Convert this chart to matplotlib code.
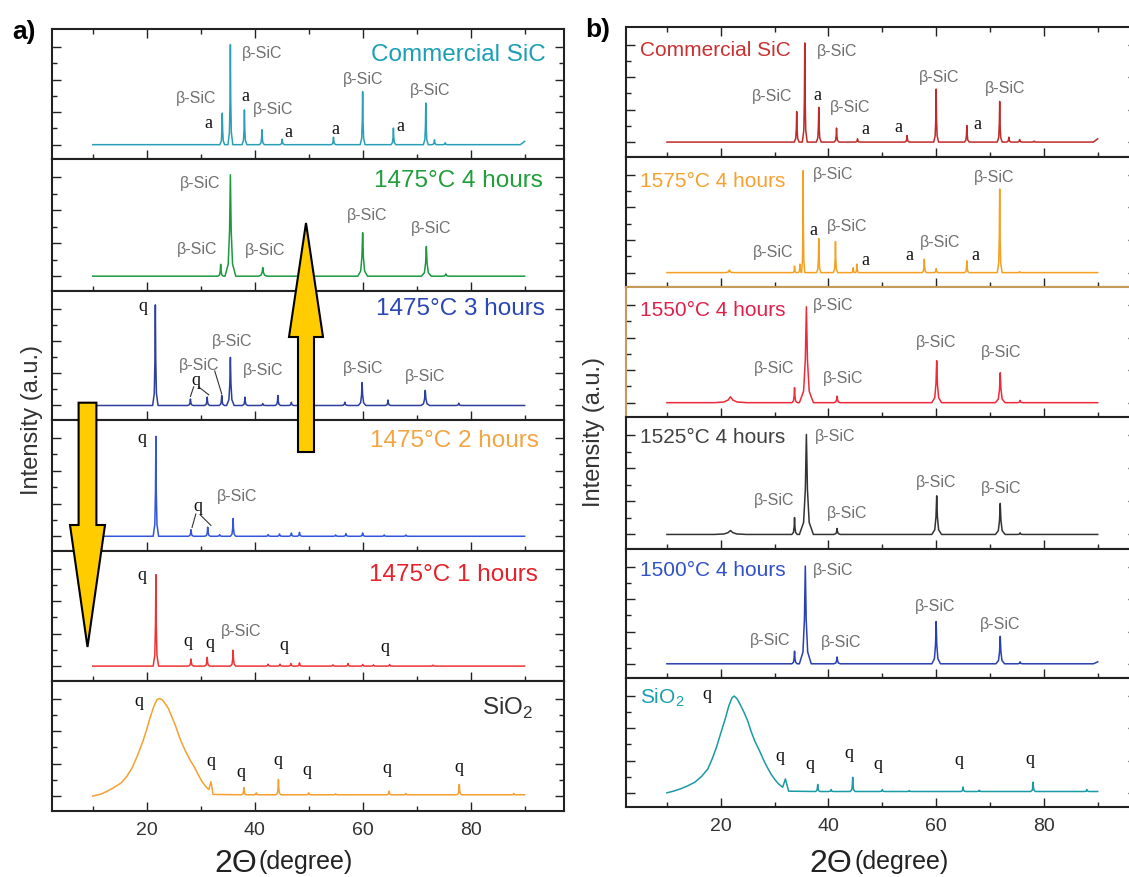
import matplotlib
matplotlib.use("Agg")
import matplotlib.pyplot as plt
from matplotlib.patches import Polygon

plt.rcParams['font.family'] = ['Liberation Sans', 'DejaVu Sans']

#   ---- dati (2theta in gradi, intensita' in unita' di tacca) ----
#   colonna a)
a_comm_pos = [34.0, 35.5, 38.1, 41.35, 45.1, 54.6, 60.0, 65.7, 71.7, 73.3, 75.3]
a_comm_hgt = [0.97, 3.08, 1.07, 0.46, 0.17, 0.23, 1.63, 0.51, 1.28, 0.15, 0.06]

a_4h_pos = [33.7, 35.5, 41.5, 60.0, 71.8, 75.4]
a_4h_hgt = [0.36, 3.08, 0.26, 1.32, 0.9, 0.07]

a_3h_pos = [21.6, 28.1, 31.2, 33.9, 35.5, 38.2, 41.5, 44.3, 46.8, 56.7, 59.9, 64.7, 71.6, 77.8]
a_3h_hgt = [3.12, 0.2, 0.26, 0.31, 1.49, 0.26, 0.06, 0.31, 0.1, 0.1, 0.71, 0.17, 0.47, 0.07]

a_2h_pos = [21.7, 28.2, 31.3, 33.5, 36.0, 42.5, 44.6, 46.8, 48.3, 55.0, 56.9, 60.0, 64.0, 68.0]
a_2h_hgt = [3.05, 0.2, 0.28, 0.05, 0.54, 0.05, 0.07, 0.1, 0.12, 0.04, 0.08, 0.1, 0.04, 0.04]

a_1h_pos = [21.7, 28.2, 31.2, 36.0, 42.5, 44.7, 46.7, 48.3, 54.5, 57.3, 60.0, 62.0, 65.0, 73.0]
a_1h_hgt = [2.82, 0.22, 0.27, 0.49, 0.06, 0.06, 0.08, 0.1, 0.04, 0.08, 0.05, 0.04, 0.05, 0.03]

a_sio2_hump_x = [10, 11.5, 12.7, 14, 15.3, 16.3, 17.3, 18.3, 19.3, 20.0, 20.6, 21.3, 21.9, 22.4, 22.9,
                 23.3, 24.0, 24.6, 25.3, 25.9, 26.5, 27.2, 28.0, 28.9, 29.6, 30.2, 30.9, 31.5, 31.9, 32.3]
a_sio2_hump_y = [0, 0.06, 0.15, 0.27, 0.41, 0.6, 0.87, 1.25, 1.69, 2.05, 2.4, 2.75, 2.97, 3.0, 2.96,
                 2.87, 2.7, 2.46, 2.18, 1.89, 1.63, 1.38, 1.12, 0.87, 0.64, 0.46, 0.3, 0.2, 0.44, 0.05]
a_sio2_pos = [38.0, 40.3, 44.4, 50.0, 55.0, 64.9, 68.0, 77.9, 88.0]
a_sio2_hgt = [0.22, 0.06, 0.47, 0.06, 0.03, 0.11, 0.04, 0.32, 0.04]

#   colonna b)
b_comm_pos = [34.1, 35.6, 38.2, 41.5, 45.4, 54.6, 60.0, 65.7, 71.8, 73.5, 75.5, 78.2]
b_comm_hgt = [0.94, 3.05, 1.07, 0.43, 0.1, 0.2, 1.63, 0.51, 1.25, 0.15, 0.08, 0.03]

b_1575_pos = [21.6, 33.7, 34.7, 35.3, 38.2, 41.3, 44.6, 45.3, 57.8, 60.0, 65.7, 71.8, 75.5]
b_1575_hgt = [0.08, 0.2, 0.26, 3.12, 1.04, 0.95, 0.15, 0.26, 0.41, 0.12, 0.36, 2.56, 0.03]

b_4h_pos = [21.8, 33.7, 35.9, 41.6, 60.1, 71.9, 75.6]
b_1550_hgt = [0.18, 0.46, 2.95, 0.2, 1.29, 0.92, 0.07]
b_1525_hgt = [0.12, 0.51, 3.03, 0.18, 1.17, 0.94, 0.05]

b_1500_pos = [33.7, 35.7, 41.6, 60.0, 71.9, 75.6]
b_1500_hgt = [0.39, 3.03, 0.21, 1.31, 0.85, 0.06]

b_sio2_hump_x = [10, 11.2, 12.5, 13.8, 15.2, 16.4, 17.6, 18.4, 19.2, 20.0, 20.9, 21.5, 22.1, 22.5, 23.0,
                 23.6, 24.3, 25.0, 25.6, 26.3, 27.2, 28.0, 28.6, 29.3, 30.0, 30.7, 31.5, 32.0, 32.6]
b_sio2_hump_y = [0, 0.05, 0.12, 0.21, 0.33, 0.5, 0.74, 1.05, 1.41, 1.85, 2.33, 2.7, 2.95, 3.0, 2.92,
                 2.74, 2.5, 2.23, 1.92, 1.61, 1.3, 1.0, 0.8, 0.59, 0.42, 0.28, 0.17, 0.43, 0.05]
b_sio2_pos = [38.0, 40.5, 44.5, 50.0, 55.0, 65.0, 68.0, 78.0, 88.0]
b_sio2_hgt = [0.22, 0.06, 0.44, 0.06, 0.03, 0.14, 0.04, 0.29, 0.06]

BS = "\u03b2-SiC"


def trace(pos, hgt, wid, base=0.0, x0=10.0, x1=90.0, end=None, head=None):
    #   spezzata che congiunge i picchi letti, con profilo a punta
    xs, ys = ([x0], [base]) if head is None else (list(head[0]), list(head[1]))
    if not isinstance(wid, (list, tuple)):
        wid = [wid] * len(pos)
    for p, h, w in sorted(zip(pos, hgt, wid)):
        for f, g in ((-1, 0), (-0.4, 0.12), (-0.15, 0.45), (0, 1), (0.15, 0.45), (0.4, 0.12), (1, 0)):
            xs.append(p + f * w)
            ys.append(base + g * h)
    if end is not None:
        xs.append(x1 - 0.8)
        ys.append(base)
    xs.append(x1)
    ys.append(base if end is None else end)
    return xs, ys


W, H = 1129, 877
fig = plt.figure(figsize=(W / 100, H / 100), dpi=100)

left_edges = [29.3, 159.3, 291, 420, 551, 680.7, 810.7]
right_edges = [26.7, 156.7, 287.3, 417.3, 549.3, 678.3, 807.3]


def make_axes(x0, x1, edges, i, spine_col='#222222'):
    top, bot = edges[i], edges[i + 1]
    ax = fig.add_axes([x0 / W, 1 - bot / H, (x1 - x0) / W, (bot - top) / H])
    ax.set_xlim(2.4, 97.3)
    ax.set_ylim(-0.45, 3.55)
    ax.set_xticks([20, 40, 60, 80])
    ax.set_xticks([10, 30, 50, 70, 90], minor=True)
    ax.set_yticks([0, 1, 2, 3])
    ax.set_yticks([0.5, 1.5, 2.5], minor=True)
    ax.tick_params(which='both', direction='in', top=(i == 0), bottom=True, left=True, right=True,
                   labelleft=False, labelbottom=(i == 5), width=1.0, color='#222222',
                   labelsize=14, labelcolor='#333333', pad=8)
    ax.tick_params(which='major', length=6.5)
    ax.tick_params(which='minor', length=3.8)
    for s in ax.spines.values():
        s.set_linewidth(1.5)
        s.set_color(spine_col)
    return ax


def labels(ax, items):
    for t, x, y in items:
        if t == BS:
            ax.text(x, y, t, fontsize=11.5, color='#707070', ha='center', va='center')
        else:
            ax.text(x, y, t, fontsize=13, color='#111111', ha='center', va='center',
                    family=['Liberation Serif', 'DejaVu Serif'])


#   ---- colonna a) ----
a_panels = [
    (trace(a_comm_pos, a_comm_hgt, 0.45, end=0.1), '#2aa0b8', 'Commercial SiC', '#1a9fb5', 93.9, 2.75,
     [(BS, 41.3, 2.8), (BS, 29.2, 1.43), ('a', 31.5, 0.66), ('a', 38.2, 1.48), (BS, 43.5, 1.07),
      ('a', 46.3, 0.36), ('a', 54.9, 0.48), (BS, 60.0, 2.02), ('a', 67.0, 0.56), (BS, 72.5, 1.68)]),
    (trace(a_4h_pos, a_4h_hgt, [0.5, 1.0, 0.8, 0.9, 0.9, 0.6]), '#1a9940', '1475\u00b0C 4 hours', '#1f9e3a', 93.4, 2.88,
     [(BS, 29.9, 2.8), (BS, 29.4, 0.82), (BS, 42.0, 0.77), (BS, 60.9, 1.85), (BS, 72.6, 1.44)]),
    (trace(a_3h_pos, a_3h_hgt, [0.5, 0.5, 0.5, 0.5, 0.7, 0.5, 0.5, 0.5, 0.5, 0.6, 0.7, 0.5, 0.8, 0.5]),
     '#2c3e9e', '1475\u00b0C 3 hours', '#2a47b5', 93.7, 2.99,
     [('q', 19.3, 3.07), (BS, 35.9, 1.98), (BS, 29.7, 1.23), ('q', 29.1, 0.78), (BS, 41.6, 1.07),
      (BS, 60.0, 1.15), (BS, 71.6, 0.89)]),
    (trace(a_2h_pos, a_2h_hgt, 0.5), '#3355dd', '1475\u00b0C 2 hours', '#f5a442', 92.7, 2.92,
     [('q', 19.1, 3.0), ('q', 29.4, 0.92), (BS, 36.8, 1.22)]),
    (trace(a_1h_pos, a_1h_hgt, 0.5), '#ee3333', '1475\u00b0C 1 hours', '#e8202a', 92.4, 2.8,
     [('q', 19.1, 2.8), ('q', 27.6, 0.76), ('q', 31.7, 0.71), (BS, 37.5, 1.07), ('q', 45.5, 0.64), ('q', 64.2, 0.58)]),
    (trace(a_sio2_pos, a_sio2_hgt, 0.45, base=0.04, head=(a_sio2_hump_x, a_sio2_hump_y)), '#f5a030',
     'SiO$_{\\mathregular{2}}$', '#333333', 91.7, 2.71,
     [('q', 18.5, 2.9), ('q', 31.9, 1.05), ('q', 37.4, 0.74), ('q', 44.3, 1.1), ('q', 49.6, 0.79),
      ('q', 64.5, 0.85), ('q', 77.8, 0.87)]),
]

a_axes = []
for i, (xy, col, title, tcol, tx, ty, labs) in enumerate(a_panels):
    ax = make_axes(51.7, 564, left_edges, i)
    ax.plot(xy[0], xy[1], color=col, lw=1.1)
    ax.text(tx, ty, title, fontsize=17.5, color=tcol, ha='right', va='center')
    labels(ax, labs)
    a_axes.append(ax)

#   linee di richiamo
for (x0, y0), (x1, y1) in [((28.7, 0.58), (28.1, 0.28)), ((29.6, 0.58), (31.5, 0.33)), ((32.6, 1.07), (33.9, 0.36))]:
    a_axes[2].plot([x0, x1], [y0, y1], color='#333333', lw=0.8)
for (x0, y0), (x1, y1) in [((29.1, 0.68), (28.4, 0.27)), ((30.0, 0.64), (31.9, 0.33))]:
    a_axes[3].plot([x0, x1], [y0, y1], color='#333333', lw=0.8)

#   ---- colonna b) ----
b_panels = [
    (trace(b_comm_pos, b_comm_hgt, 0.45, end=0.1), '#c02a2a', 'Commercial SiC', '#c83232', 2.82,
     [(BS, 41.7, 2.78), (BS, 29.5, 1.39), ('a', 38.0, 1.42), (BS, 44.0, 1.07), ('a', 46.9, 0.38),
      ('a', 52.9, 0.44), (BS, 60.5, 1.98), ('a', 67.7, 0.54), (BS, 72.9, 1.66)]),
    (trace(b_1575_pos, b_1575_hgt, [0.8, 0.3, 0.3, 0.3, 0.4, 0.4, 0.3, 0.3, 0.4, 0.4, 0.4, 0.45, 0.4]),
     '#f5a020', '1575\u00b0C 4 hours', '#f5a030', 2.78,
     [(BS, 40.9, 3.0), (BS, 70.8, 2.92), ('a', 37.2, 1.3), (BS, 43.5, 1.4), (BS, 29.8, 0.61),
      ('a', 46.9, 0.38), ('a', 55.1, 0.51), (BS, 60.8, 0.92), ('a', 67.2, 0.51)]),
    (trace(b_4h_pos, b_1550_hgt, [3.0, 0.5, 1.3, 0.6, 0.9, 0.9, 0.5]), '#ee2a3a', '1550\u00b0C 4 hours', '#e0204a', 2.85,
     [(BS, 40.8, 3.0), (BS, 30.0, 1.05), (BS, 42.7, 0.73), (BS, 60.0, 1.85), (BS, 72.1, 1.53)]),
    (trace(b_4h_pos, b_1525_hgt, [3.0, 0.5, 1.3, 0.6, 0.9, 0.9, 0.5]), '#333333', '1525\u00b0C 4 hours', '#404040', 2.93,
     [(BS, 41.3, 2.97), (BS, 30.0, 1.04), (BS, 43.5, 0.64), (BS, 60.0, 1.58), (BS, 72.1, 1.38)]),
    (trace(b_1500_pos, b_1500_hgt, [0.5, 1.1, 0.6, 0.8, 0.8, 0.5], end=0.06), '#2a40b0', '1500\u00b0C 4 hours',
     '#3050c8', 2.9,
     [(BS, 40.8, 2.9), (BS, 29.2, 0.72), (BS, 42.4, 0.65), (BS, 59.8, 1.77), (BS, 71.8, 1.23)]),
    (trace(b_sio2_pos, b_sio2_hgt, 0.45, base=0.04, head=(b_sio2_hump_x, b_sio2_hump_y)), '#1a9aa5',
     'SiO$_{\\mathregular{2}}$', '#1aa0b0', 2.95,
     [('q', 17.5, 3.04), ('q', 31.0, 1.12), ('q', 36.6, 0.89), ('q', 43.8, 1.22), ('q', 49.1, 0.89),
      ('q', 64.2, 1.0), ('q', 77.4, 1.02)]),
]

for i, (xy, col, title, tcol, ty, labs) in enumerate(b_panels):
    ax = make_axes(626, 1137, right_edges, i, spine_col='#c89a5a' if i == 2 else '#222222')
    ax.plot(xy[0], xy[1], color=col, lw=1.1)
    ax.text(5.0, ty, title, fontsize=15, color=tcol, ha='left', va='center')
    labels(ax, labs)

#   ---- testi della figura ----
fig.text(24 / W, 1 - 32 / H, 'a)', fontsize=19, fontweight='bold', ha='center', va='center')
fig.text(598 / W, 1 - 30 / H, 'b)', fontsize=19, fontweight='bold', ha='center', va='center')
fig.text(32 / W, 1 - 420 / H, 'Intensity (a.u.)', rotation=90, fontsize=17, color='#333333', ha='center', va='center')
fig.text(594 / W, 1 - 432 / H, 'Intensity (a.u.)', rotation=90, fontsize=17, color='#333333', ha='center', va='center')
for xr in (257, 852):
    fig.text(xr / W, 1 - 864 / H, '2\u0398', fontsize=23, color='#222222', ha='right', va='center')
    fig.text((xr + 2) / W, 1 - 862 / H, '(degree)', fontsize=18, color='#222222', ha='left', va='center')

#   frecce gialle
up = [(306, 223), (323, 337), (314, 337), (314, 452), (298, 452), (298, 337), (289, 337)]
down = [(78.6, 402.7), (96.4, 402.7), (96.4, 525), (105, 525), (87.5, 647), (70, 525), (78.6, 525)]
for pts in (up, down):
    fig.add_artist(Polygon([(x / W, 1 - y / H) for x, y in pts], closed=True, transform=fig.transFigure,
                           facecolor='#ffcc00', edgecolor='black', lw=1.5, zorder=10))

fig.savefig('out.png', dpi=100)
